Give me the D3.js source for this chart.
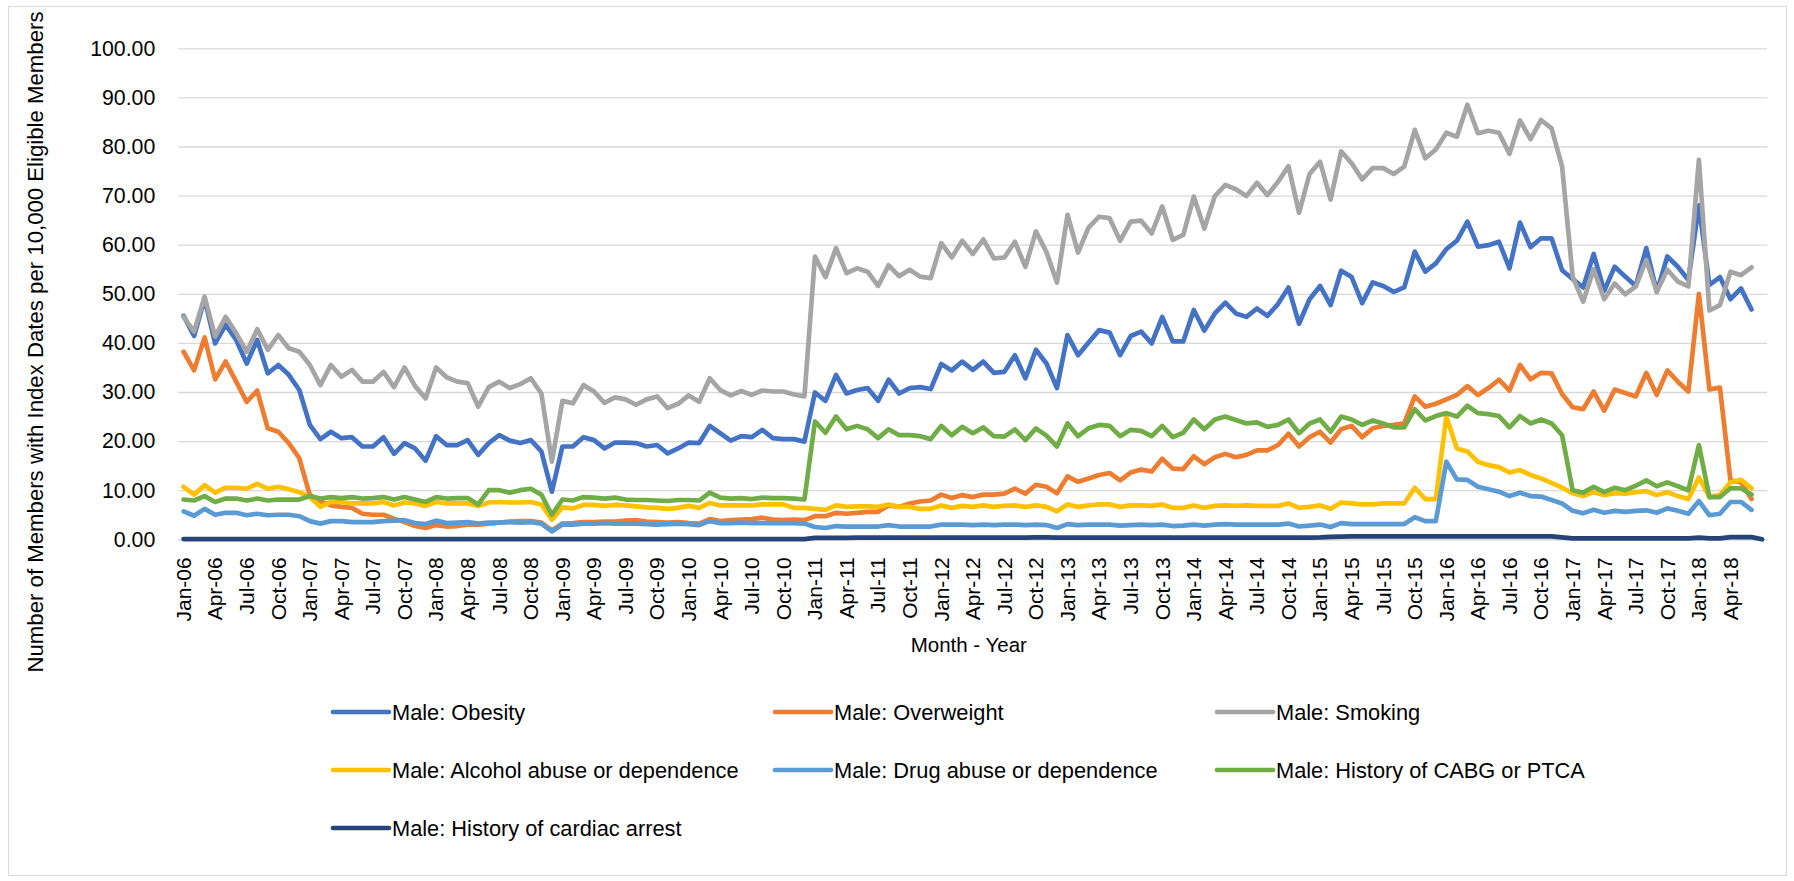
<!DOCTYPE html>
<html>
<head>
<meta charset="utf-8">
<script src="https://cdn.jsdelivr.net/npm/d3@7"></script>
<style>
  html, body { margin: 0; padding: 0; background: #fff; }
  svg text { font-family: "Liberation Sans", Arial, sans-serif; fill: #000; }
</style>
</head>
<body>
<svg id="chart" width="1794" height="881"></svg>
<script>
// ---------- DATA ----------
const monthAbbr = ["Jan","Feb","Mar","Apr","May","Jun","Jul","Aug","Sep","Oct","Nov","Dec"];
const years = ["06","07","08","09","10","11","12","13","14","15","16","17","18"];
const lastMonthIndex = 6; // Jul-18 is the last category
const categories = [];
years.forEach((y, yi) => monthAbbr.forEach((m, mi) => {
  if (yi < years.length - 1 || mi <= lastMonthIndex) categories.push(m + "-" + y);
}));
const tickLabels = categories.filter((c, i) => i % 3 === 0 && c !== "Jul-18");

const seriesNames = [
  "Male: Obesity", "Male: Overweight", "Male: Smoking",
  "Male: Alcohol abuse or dependence", "Male: Drug abuse or dependence", "Male: History of CABG or PTCA",
  "Male: History of cardiac arrest"
];
const seriesColors = ["#4472C4", "#ED7D31", "#A5A5A5", "#FFC000", "#5B9BD5", "#70AD47", "#264478"];

const obesity = [
45.5,41.4,49.0,39.9,43.7,40.6,35.8,40.6,33.8,35.5,33.5,30.4,23.3,20.4,21.9,20.6,20.8,18.9,18.9,20.8,17.4,19.6,18.5,16.0,21.0,19.2,19.2,20.2,
17.2,19.6,21.2,20.1,19.6,20.2,17.9,9.7,18.9,18.9,20.8,20.2,18.5,19.7,19.7,19.6,18.9,19.2,17.5,18.5,19.7,19.6,23.1,21.6,20.1,21.0,20.8,
22.3,20.6,20.4,20.4,19.9,29.9,28.2,33.5,29.7,30.4,30.8,28.2,32.5,29.7,30.8,31.0,30.6,35.7,34.4,36.2,34.5,36.2,33.9,34.1,37.5,32.8,38.6,35.8,
30.8,41.6,37.5,40.1,42.6,42.1,37.5,41.4,42.3,39.9,45.3,40.3,40.3,46.7,42.5,46.0,48.2,46.0,45.3,47.0,45.5,47.9,51.3,43.9,48.9,51.6,47.7,54.7,
53.4,48.1,52.3,51.6,50.4,51.3,58.6,54.5,56.2,59.1,60.8,64.7,59.6,59.9,60.6,55.2,64.5,59.5,61.3,61.3,54.8,53.0,51.3,58.1,50.6,55.5,53.5,51.6,59.3,50.4,57.6,55.5,52.8,68.0,51.8,53.4,48.9,51.1,46.8];

const overweight = [
38.2,34.4,41.1,32.6,36.2,32.1,28.0,30.3,22.6,21.9,19.6,16.5,9.0,7.7,6.9,6.6,6.4,5.2,5.0,5.0,4.2,3.5,2.7,2.3,2.9,2.6,2.7,3.0,
3.0,3.2,3.4,3.6,3.7,3.7,3.4,1.8,3.2,3.3,3.5,3.5,3.6,3.6,3.8,3.9,3.6,3.5,3.4,3.5,3.3,3.2,4.1,3.7,3.9,4.0,4.1,
4.4,4.0,3.9,4.0,3.9,4.7,4.7,5.4,5.2,5.4,5.6,5.6,6.9,6.6,7.3,7.7,7.9,9.1,8.4,9.0,8.6,9.1,9.1,9.3,10.3,9.3,11.1,10.7,
9.4,12.8,11.7,12.4,13.1,13.5,12.0,13.6,14.2,13.8,16.4,14.4,14.3,16.9,15.3,16.7,17.4,16.7,17.2,18.1,18.1,19.2,21.5,18.9,20.8,21.9,19.7,22.4,
23.1,20.8,22.6,23.1,23.3,23.6,29.1,27.0,27.6,28.5,29.4,31.2,29.4,30.8,32.5,30.3,35.5,32.6,33.9,33.8,29.6,26.9,26.5,30.1,26.2,30.5,29.8,29.1,33.9,29.4,34.4,32.1,30.1,50.0,30.5,30.9,12.0,11.6,8.2];

const smoking = [
45.3,42.3,49.4,41.3,45.3,42.0,38.2,42.8,38.6,41.6,38.9,38.2,35.5,31.4,35.5,33.1,34.5,32.1,32.1,34.1,31.0,35.0,31.2,28.7,35.0,33.0,32.1,31.8,
27.0,31.0,32.1,30.8,31.6,32.8,29.7,15.8,28.2,27.7,31.4,30.1,27.8,28.9,28.5,27.4,28.5,29.1,26.7,27.6,29.3,28.0,32.8,30.4,29.3,30.2,29.4,
30.3,30.1,30.1,29.5,29.1,57.6,53.4,59.3,54.2,55.2,54.5,51.6,55.8,53.6,54.9,53.5,53.2,60.3,57.4,60.8,58.1,61.1,57.2,57.4,60.6,55.5,62.7,58.5,
52.3,66.1,58.4,63.5,65.7,65.4,60.8,64.7,64.9,62.3,67.8,61.0,62.0,69.8,63.3,69.9,72.2,71.3,69.9,72.6,70.1,72.8,76.0,66.5,74.4,76.9,69.2,79.0,
76.6,73.3,75.6,75.6,74.4,75.9,83.4,77.6,79.4,82.8,82.0,88.5,82.7,83.2,82.8,78.5,85.3,81.5,85.4,83.7,75.9,53.5,48.4,55.0,48.9,52.1,49.9,51.5,56.9,50.4,54.9,52.5,51.5,77.3,46.6,47.7,54.5,53.8,55.4];

const alcohol = [
10.7,9.1,11.0,9.5,10.5,10.5,10.3,11.3,10.3,10.7,10.2,9.6,8.6,6.6,7.6,7.6,7.3,7.3,7.3,7.6,6.9,7.5,7.3,6.8,7.6,7.3,7.3,7.3,
6.8,7.5,7.6,7.5,7.5,7.6,7.1,4.0,6.5,6.3,7.0,7.0,6.8,7.0,6.9,6.7,6.5,6.4,6.2,6.4,6.8,6.4,7.4,6.9,6.9,6.9,6.9,
7.1,7.1,7.1,6.4,6.4,6.2,6.0,6.9,6.6,6.7,6.7,6.6,7.1,6.6,6.6,6.2,6.2,6.9,6.4,6.8,6.6,6.9,6.6,6.8,6.9,6.6,6.9,6.6,
5.7,7.1,6.6,6.9,7.1,7.1,6.6,6.9,6.9,6.8,7.1,6.4,6.4,6.9,6.4,6.8,6.9,6.8,6.9,6.8,6.8,6.8,7.3,6.4,6.6,6.9,6.2,7.5,
7.3,7.1,7.1,7.3,7.3,7.3,10.5,8.2,8.2,25.0,18.5,17.9,15.8,15.1,14.7,13.6,14.1,13.1,12.4,11.5,10.5,9.4,8.8,9.6,9.0,9.4,9.3,9.6,9.8,9.0,9.6,8.8,8.2,12.6,8.6,9.0,11.6,12.1,10.4];

const drug = [
5.7,4.8,6.2,5.0,5.4,5.4,4.9,5.2,4.9,5.0,5.0,4.7,3.7,3.2,3.7,3.7,3.5,3.5,3.5,3.7,3.8,3.9,3.3,3.1,3.8,3.3,3.4,3.5,
3.2,3.4,3.4,3.5,3.4,3.5,3.2,1.6,3.0,3.0,3.2,3.2,3.3,3.2,3.2,3.2,3.1,3.0,3.1,3.2,3.1,2.9,3.7,3.3,3.3,3.4,3.3,
3.3,3.3,3.3,3.3,3.2,2.5,2.3,2.7,2.6,2.6,2.6,2.6,2.9,2.6,2.6,2.6,2.6,3.0,3.0,3.0,2.9,3.0,2.9,3.0,3.0,2.9,3.0,2.9,
2.3,3.1,2.9,3.0,3.0,3.0,2.8,2.9,3.0,2.9,3.0,2.7,2.8,3.0,2.8,3.0,3.1,3.0,3.0,3.0,3.0,3.0,3.2,2.6,2.8,3.0,2.5,3.3,
3.1,3.1,3.1,3.1,3.1,3.1,4.5,3.7,3.7,15.8,12.2,12.1,10.7,10.2,9.7,8.8,9.5,8.8,8.7,8.0,7.3,5.8,5.3,6.0,5.4,5.8,5.6,5.8,5.9,5.4,6.3,5.8,5.2,7.8,4.9,5.2,7.6,7.6,6.0];

const cabg = [
8.1,7.9,8.8,7.6,8.3,8.3,7.9,8.3,7.9,8.1,8.1,8.1,8.8,8.3,8.6,8.4,8.6,8.3,8.4,8.6,8.1,8.6,8.1,7.6,8.6,8.3,8.4,8.4,
7.1,10.0,10.0,9.5,10.0,10.3,9.1,5.0,8.1,7.9,8.6,8.5,8.3,8.5,8.1,8.0,8.0,7.9,7.8,8.0,8.0,7.9,9.5,8.5,8.3,8.4,8.2,
8.5,8.4,8.4,8.3,8.1,24.0,21.7,25.0,22.4,23.1,22.4,20.6,22.4,21.2,21.2,21.0,20.4,23.1,21.2,22.9,21.6,22.8,21.0,20.9,22.4,20.2,22.6,21.1,
18.9,23.6,21.0,22.6,23.3,23.1,21.0,22.3,22.1,21.0,23.1,20.8,21.7,24.4,22.4,24.4,25.0,24.3,23.6,23.8,22.9,23.3,24.4,21.6,23.6,24.4,21.9,25.0,
24.4,23.3,24.2,23.6,22.8,22.8,26.5,24.2,25.1,25.7,25.0,27.2,25.7,25.5,25.1,22.8,25.1,23.6,24.4,23.6,21.2,10.0,9.5,10.7,9.6,10.5,10.0,10.9,12.0,10.8,11.6,10.8,10.0,19.2,8.6,8.6,10.4,10.4,9.1];

const cardiacArrest = [
0.05,0.05,0.05,0.05,0.05,0.05,0.05,0.05,0.05,0.05,0.05,0.05,0.05,0.05,0.05,0.05,0.05,0.05,0.05,0.05,0.05,0.05,0.05,0.05,0.05,0.05,0.05,0.05,
0.05,0.05,0.05,0.05,0.05,0.05,0.05,0.05,0.05,0.05,0.05,0.05,0.05,0.05,0.05,0.05,0.05,0.05,0.05,0.05,0.05,0.05,0.05,0.05,0.05,0.05,0.05,
0.05,0.05,0.05,0.05,0.05,0.3,0.3,0.3,0.3,0.35,0.35,0.35,0.35,0.35,0.35,0.35,0.35,0.35,0.35,0.35,0.35,0.35,0.35,0.35,0.35,0.35,0.4,0.4,
0.35,0.35,0.35,0.35,0.35,0.35,0.35,0.35,0.35,0.35,0.35,0.35,0.35,0.35,0.35,0.35,0.35,0.35,0.35,0.35,0.35,0.35,0.35,0.35,0.35,0.4,0.5,0.55,
0.6,0.6,0.6,0.6,0.6,0.6,0.6,0.6,0.6,0.6,0.6,0.6,0.6,0.6,0.6,0.6,0.6,0.6,0.6,0.6,0.4,0.2,0.2,0.2,0.2,0.2,0.2,0.2,0.2,0.2,0.2,0.2,0.2,0.35,0.2,0.2,0.45,0.45,0.45,0.0];

const yTicks = [0, 10, 20, 30, 40, 50, 60, 70, 80, 90, 100];

const seriesValues = [obesity, overweight, smoking, alcohol, drug, cabg, cardiacArrest];

// ---------- LAYOUT ----------
const plot = { left: 178.3, right: 1767.3, top: 48.3, bottom: 539.3 };

const svg = d3.select("#chart");

// outer chart border
svg.append("rect")
  .attr("x", 8.5).attr("y", 6.5).attr("width", 1778).attr("height", 869)
  .attr("fill", "#fff").attr("stroke", "#d9d9d9").attr("stroke-width", 1);

const x = d3.scaleBand().domain(categories).range([plot.left, plot.right]).padding(0);
const xc = c => x(c) + x.bandwidth() / 2;
const y = d3.scaleLinear().domain([0, 100]).range([plot.bottom, plot.top]);

// y gridlines + labels
const yAxis = d3.axisLeft(y).tickValues(yTicks).tickFormat(d3.format(".2f"))
  .tickSize(-(plot.right - plot.left)).tickPadding(23);
const gy = svg.append("g").attr("transform", `translate(${plot.left},0)`).call(yAxis);
gy.select(".domain").remove();
gy.selectAll(".tick line").attr("stroke", "#d9d9d9").attr("stroke-width", 1.3);
gy.selectAll(".tick text").attr("font-size", 21.3).attr("fill", "#000")
  .style("font-family", '"Liberation Sans", Arial, sans-serif');

// x axis labels
const xAxis = d3.axisBottom(x).tickValues(tickLabels).tickSize(0).tickPadding(0);
const gx = svg.append("g").attr("transform", `translate(0,${plot.bottom})`).call(xAxis);
gx.select(".domain").attr("stroke", "#d9d9d9");
gx.selectAll(".tick text")
  .attr("font-size", 21).attr("fill", "#000")
  .style("font-family", '"Liberation Sans", Arial, sans-serif')
  .attr("text-anchor", "end")
  .attr("transform", "translate(0,18) rotate(-90)")
  .attr("x", 0).attr("y", 0).attr("dy", "0.35em");

// axis titles
svg.append("text")
  .attr("transform", "translate(35,342) rotate(-90)")
  .attr("text-anchor", "middle").attr("dominant-baseline", "central")
  .attr("font-size", 22.2)
  .text("Number of Members with Index Dates per 10,000 Eligible Members");

svg.append("text")
  .attr("x", (plot.left + plot.right) / 2 - 4).attr("y", 644)
  .attr("text-anchor", "middle").attr("dominant-baseline", "central")
  .attr("font-size", 20.5)
  .text("Month - Year");

// lines
const line = d3.line()
  .x((d, i) => xc(categories[i]))
  .y(d => y(d));

seriesValues.forEach((vals, si) => {
  svg.append("path")
    .datum(vals)
    .attr("d", line)
    .attr("fill", "none")
    .attr("stroke", seriesColors[si])
    .attr("stroke-width", 4.7)
    .attr("stroke-linejoin", "round")
    .attr("stroke-linecap", "round");
});

// legend
const legCols = [333, 775, 1217];
const legRows = [712, 770, 828];
seriesNames.forEach((name, i) => {
  const cx = legCols[i % 3], cy = legRows[Math.floor(i / 3)];
  const g = svg.append("g");
  g.append("line")
    .attr("x1", cx).attr("x2", cx + 56).attr("y1", cy).attr("y2", cy)
    .attr("stroke", seriesColors[i]).attr("stroke-width", 4.7).attr("stroke-linecap", "round");
  g.append("text")
    .attr("x", cx + 59).attr("y", cy)
    .attr("dominant-baseline", "central")
    .attr("font-size", 21.8)
    .text(name);
});
</script>
</body>
</html>
